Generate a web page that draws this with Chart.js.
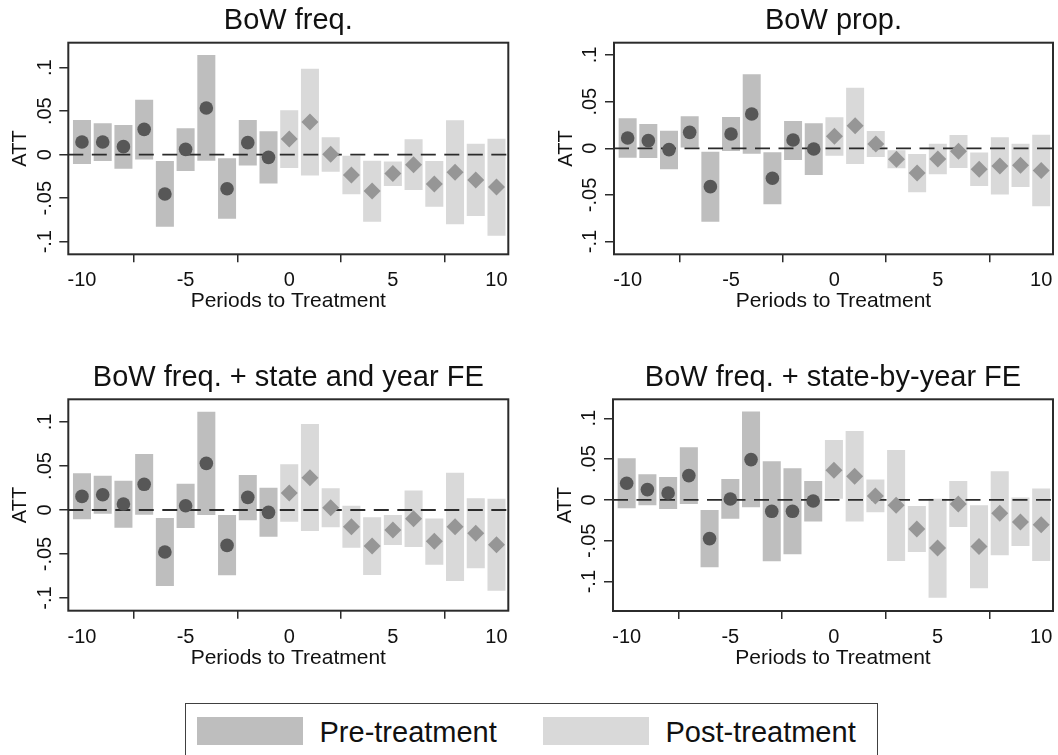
<!DOCTYPE html>
<html>
<head>
<meta charset="utf-8">
<script src="https://cdn.jsdelivr.net/npm/chart.js@4.4.1/dist/chart.umd.min.js"></script>
<style>
  html, body { margin: 0; padding: 0; background: #fff; }
  body { width: 1058px; height: 755px; position: relative; overflow: hidden;
         font-family: 'Liberation Sans', Arial, sans-serif; }
  .panel { position: absolute; width: 529px; height: 330px; }
  .legend { position: absolute; left: 185px; top: 703px; width: 693px; height: 70px;
            border: 1.5px solid #404040; box-sizing: border-box; }
  .legend .swatch { position: absolute; top: 12.5px; width: 106px; height: 28px; }
  .legend .label { position: absolute; top: 13.5px; font-size: 29px; line-height: 29px;
                   color: #111; white-space: nowrap; }
</style>
</head>
<body>
<div class="panel" id="p1"><canvas></canvas></div>
<div class="panel" id="p2"><canvas></canvas></div>
<div class="panel" id="p3"><canvas></canvas></div>
<div class="panel" id="p4"><canvas></canvas></div>

<div class="legend">
  <div class="swatch" style="left:10.5px; background:#bebebe"></div>
  <div class="label" style="left:133.5px">Pre-treatment</div>
  <div class="swatch" style="left:356.5px; background:#d9d9d9"></div>
  <div class="label" style="left:479.5px">Post-treatment</div>
</div>

<script>
// event time
const PERIODS_PRE = [-10, -9, -8, -7, -6, -5, -4, -3, -2, -1];
const PERIODS_POST = [0, 1, 2, 3, 4, 5, 6, 7, 8, 9, 10];

const X_TICKS = [-10, -5, 0, 5, 10];
const X_TICK_LABELS = ['-10', '-5', '0', '5', '10'];
const Y_TICKS = [-0.1, -0.05, 0, 0.05, 0.1];
const Y_TICK_LABELS = ['-.1', '-.05', '0', '.05', '.1'];
const X_RANGE = [-10.66, 10.57];

// BoW freq.
const FREQ_PRE_EST = [0.0146, 0.0146, 0.0092, 0.0291, -0.0452, 0.0061, 0.0536, -0.0391, 0.0138, -0.0031];
const FREQ_PRE_LO = [-0.0107, -0.0073, -0.0161, -0.0054, -0.0828, -0.0188, -0.0069, -0.0736, -0.0123, -0.0330];
const FREQ_PRE_HI = [0.0398, 0.0360, 0.0341, 0.0632, -0.0073, 0.0303, 0.1146, -0.0042, 0.0398, 0.0268];
const FREQ_POST_EST = [0.0180, 0.0375, 0.0004, -0.0234, -0.0418, -0.0215, -0.0115, -0.0337, -0.0203, -0.0291, -0.0372];
const FREQ_POST_LO = [-0.0153, -0.0238, -0.0195, -0.0456, -0.0770, -0.0360, -0.0406, -0.0598, -0.0801, -0.0705, -0.0931];
const FREQ_POST_HI = [0.0510, 0.0989, 0.0199, -0.0011, -0.0069, -0.0077, 0.0176, -0.0073, 0.0395, 0.0126, 0.0184];

// BoW prop.
const PROP_PRE_EST = [0.0111, 0.0082, -0.0014, 0.0171, -0.0411, 0.0154, 0.0368, -0.0321, 0.0089, -0.0007];
const PROP_PRE_LO = [-0.0100, -0.0104, -0.0225, 0.0000, -0.0786, -0.0029, -0.0057, -0.0600, -0.0125, -0.0286];
const PROP_PRE_HI = [0.0321, 0.0261, 0.0189, 0.0343, -0.0036, 0.0336, 0.0793, -0.0043, 0.0293, 0.0268];
const PROP_POST_EST = [0.0129, 0.0243, 0.0046, -0.0118, -0.0264, -0.0114, -0.0032, -0.0225, -0.0189, -0.0182, -0.0239];
const PROP_POST_LO = [-0.0079, -0.0168, -0.0093, -0.0214, -0.0471, -0.0279, -0.0211, -0.0404, -0.0496, -0.0414, -0.0621];
const PROP_POST_HI = [0.0332, 0.0650, 0.0186, -0.0021, -0.0061, 0.0050, 0.0143, -0.0046, 0.0118, 0.0050, 0.0146];

// BoW freq. + state and year FE
const TWFE_PRE_EST = [0.0155, 0.0174, 0.0068, 0.0292, -0.0477, 0.0049, 0.0530, -0.0402, 0.0144, -0.0027];
const TWFE_PRE_LO = [-0.0106, -0.0042, -0.0201, -0.0053, -0.0864, -0.0205, -0.0057, -0.0742, -0.0117, -0.0303];
const TWFE_PRE_HI = [0.0417, 0.0390, 0.0333, 0.0636, -0.0091, 0.0299, 0.1117, -0.0057, 0.0398, 0.0254];
const TWFE_POST_EST = [0.0193, 0.0367, 0.0027, -0.0189, -0.0409, -0.0227, -0.0098, -0.0356, -0.0189, -0.0265, -0.0394];
const TWFE_POST_LO = [-0.0133, -0.0239, -0.0197, -0.0428, -0.0739, -0.0398, -0.0420, -0.0621, -0.0807, -0.0663, -0.0917];
const TWFE_POST_HI = [0.0519, 0.0977, 0.0246, 0.0049, -0.0083, -0.0057, 0.0223, -0.0095, 0.0424, 0.0133, 0.0129];

// BoW freq. + state-by-year FE
const SBY_PRE_EST = [0.0204, 0.0127, 0.0086, 0.0298, -0.0473, 0.0012, 0.0494, -0.0139, -0.0139, -0.0012];
const SBY_PRE_LO = [-0.0102, -0.0065, -0.0110, -0.0049, -0.0824, -0.0229, -0.0090, -0.0751, -0.0665, -0.0265];
const SBY_PRE_HI = [0.0510, 0.0314, 0.0282, 0.0645, -0.0122, 0.0257, 0.1082, 0.0473, 0.0388, 0.0233];
const SBY_POST_EST = [0.0363, 0.0290, 0.0049, -0.0065, -0.0355, -0.0588, -0.0049, -0.0571, -0.0163, -0.0269, -0.0302];
const SBY_POST_LO = [0.0016, -0.0265, -0.0151, -0.0747, -0.0637, -0.1196, -0.0331, -0.1082, -0.0678, -0.0563, -0.0747];
const SBY_POST_HI = [0.0735, 0.0845, 0.0249, 0.0612, -0.0073, 0.0016, 0.0233, -0.0065, 0.0351, 0.0029, 0.0139];

const PRE_BAR = '#bebebe';
const POST_BAR = '#d9d9d9';
const PRE_DOT = '#575757';
const POST_DOT = '#969696';
const INK = '#2b2b2b';

Chart.defaults.font.family = "'Liberation Sans', Arial, sans-serif";
Chart.defaults.color = '#111';

// box round the plot region
const plotFrame = {
    id: 'plotFrame',
    afterDraw(chart) {
        const { ctx, chartArea: a } = chart;
        ctx.save();
        ctx.strokeStyle = INK;
        ctx.lineWidth = 2;
        ctx.strokeRect(a.left, a.top, a.right - a.left, a.bottom - a.top);
        ctx.restore();
    }
};

// canvas origin (page px) and plot rectangle (page px) for each panel
const panels = [
    { id: 'p1', title: 'BoW freq.', at: [0, 0], plot: [68.3, 42.7, 508.3, 254.3], y: [-0.1145, 0.1287],
      pre: [FREQ_PRE_EST, FREQ_PRE_LO, FREQ_PRE_HI], post: [FREQ_POST_EST, FREQ_POST_LO, FREQ_POST_HI] },
    { id: 'p2', title: 'BoW prop.', at: [529, 0], plot: [614, 42.7, 1053, 254.3], y: [-0.1136, 0.1132],
      pre: [PROP_PRE_EST, PROP_PRE_LO, PROP_PRE_HI], post: [PROP_POST_EST, PROP_POST_LO, PROP_POST_HI] },
    { id: 'p3', title: 'BoW freq. + state and year FE', at: [0, 350], plot: [68.3, 399.3, 508.3, 610.7], y: [-0.1144, 0.1258],
      pre: [TWFE_PRE_EST, TWFE_PRE_LO, TWFE_PRE_HI], post: [TWFE_POST_EST, TWFE_POST_LO, TWFE_POST_HI] },
    { id: 'p4', title: 'BoW freq. + state-by-year FE', at: [529, 350], plot: [613, 399.3, 1053, 611], y: [-0.1359, 0.1232],
      pre: [SBY_PRE_EST, SBY_PRE_LO, SBY_PRE_HI], post: [SBY_POST_EST, SBY_POST_LO, SBY_POST_HI] }
];

const W = 529, H = 330;
const Y_AXIS_W = 59.8;
const X_AXIS_H = 59.9;
const TITLE_LINE = 29 * 1.2;
const TITLE_GAP = 3.9;

function buildPanel(p) {
    const wrap = document.getElementById(p.id);
    wrap.style.left = p.at[0] + 'px';
    wrap.style.top = p.at[1] + 'px';

    const left = p.plot[0] - p.at[0];
    const top = p.plot[1] - p.at[1];
    const right = p.plot[2] - p.at[0];
    const bottom = p.plot[3] - p.at[1];

    const [preEst, preLo, preHi] = p.pre;
    const [postEst, postLo, postHi] = p.post;

    new Chart(wrap.querySelector('canvas'), {
        type: 'bar',
        data: {
            datasets: [
                // dashed zero line
                {
                    type: 'line',
                    data: [{ x: X_RANGE[0], y: 0 }, { x: X_RANGE[1], y: 0 }],
                    borderColor: INK,
                    borderWidth: 1.8,
                    borderDash: [15, 8.5],
                    pointRadius: 0,
                    order: 2
                },
                {
                    type: 'line',
                    data: PERIODS_PRE.map((x, i) => ({ x, y: preEst[i] })),
                    showLine: false,
                    pointStyle: 'circle',
                    pointRadius: 6.8,
                    pointBackgroundColor: PRE_DOT,
                    pointBorderWidth: 0,
                    order: 1
                },
                {
                    type: 'line',
                    data: PERIODS_POST.map((x, i) => ({ x, y: postEst[i] })),
                    showLine: false,
                    pointStyle: 'rectRot',
                    pointRadius: 8.5,
                    pointBackgroundColor: POST_DOT,
                    pointBorderWidth: 0,
                    order: 1
                },
                // confidence intervals as floating bars
                {
                    type: 'bar',
                    data: PERIODS_PRE.map((x, i) => ({ x, y: [preLo[i], preHi[i]] })),
                    backgroundColor: PRE_BAR,
                    borderWidth: 0,
                    grouped: false,
                    barPercentage: 0.87,
                    categoryPercentage: 1,
                    order: 3
                },
                {
                    type: 'bar',
                    data: PERIODS_POST.map((x, i) => ({ x, y: [postLo[i], postHi[i]] })),
                    backgroundColor: POST_BAR,
                    borderWidth: 0,
                    grouped: false,
                    barPercentage: 0.87,
                    categoryPercentage: 1,
                    order: 3
                }
            ]
        },
        options: {
            responsive: true,
            maintainAspectRatio: false,
            animation: false,
            events: [],
            layout: {
                autoPadding: false,
                padding: {
                    left: left - Y_AXIS_W,
                    right: W - right,
                    top: 0,
                    bottom: H - (bottom + X_AXIS_H)
                }
            },
            plugins: {
                legend: { display: false },
                tooltip: { enabled: false },
                title: {
                    display: true,
                    text: p.title,
                    fullSize: false,
                    color: '#111',
                    font: { size: 29, weight: 'normal' },
                    padding: { top: top - TITLE_LINE - TITLE_GAP, bottom: TITLE_GAP }
                }
            },
            scales: {
                x: {
                    type: 'linear',
                    min: X_RANGE[0],
                    max: X_RANGE[1],
                    offset: false,
                    border: { display: false },
                    grid: { display: true, drawOnChartArea: false, drawTicks: true, tickLength: 8, color: INK, lineWidth: 1.5 },
                    ticks: {
                        autoSkip: false,
                        maxRotation: 0,
                        padding: 6.6,
                        color: '#111',
                        font: { size: 20 },
                        callback: (v, i) => X_TICK_LABELS[i]
                    },
                    title: { display: true, text: 'Periods to Treatment', color: '#111', font: { size: 21 }, padding: 0 },
                    afterBuildTicks: s => { s.ticks = X_TICKS.map(v => ({ value: v })); },
                    afterFit: s => { s.height = X_AXIS_H; s.paddingLeft = 0; s.paddingRight = 0; }
                },
                y: {
                    type: 'linear',
                    min: p.y[0],
                    max: p.y[1],
                    border: { display: false },
                    grid: { display: true, drawOnChartArea: false, drawTicks: true, tickLength: 9, color: INK, lineWidth: 1.5 },
                    ticks: {
                        autoSkip: false,
                        minRotation: 90,
                        maxRotation: 90,
                        crossAlign: 'center',
                        padding: -3.2,
                        color: '#111',
                        font: { size: 20 },
                        callback: (v, i) => Y_TICK_LABELS[i]
                    },
                    title: { display: true, text: 'ATT', color: '#111', font: { size: 20 }, padding: 0 },
                    afterBuildTicks: s => { s.ticks = Y_TICKS.map(v => ({ value: v })); },
                    afterFit: s => { s.width = Y_AXIS_W; s.paddingTop = 0; s.paddingBottom = 0; }
                }
            }
        },
        plugins: [plotFrame]
    });
}

panels.forEach(buildPanel);
</script>
</body>
</html>
